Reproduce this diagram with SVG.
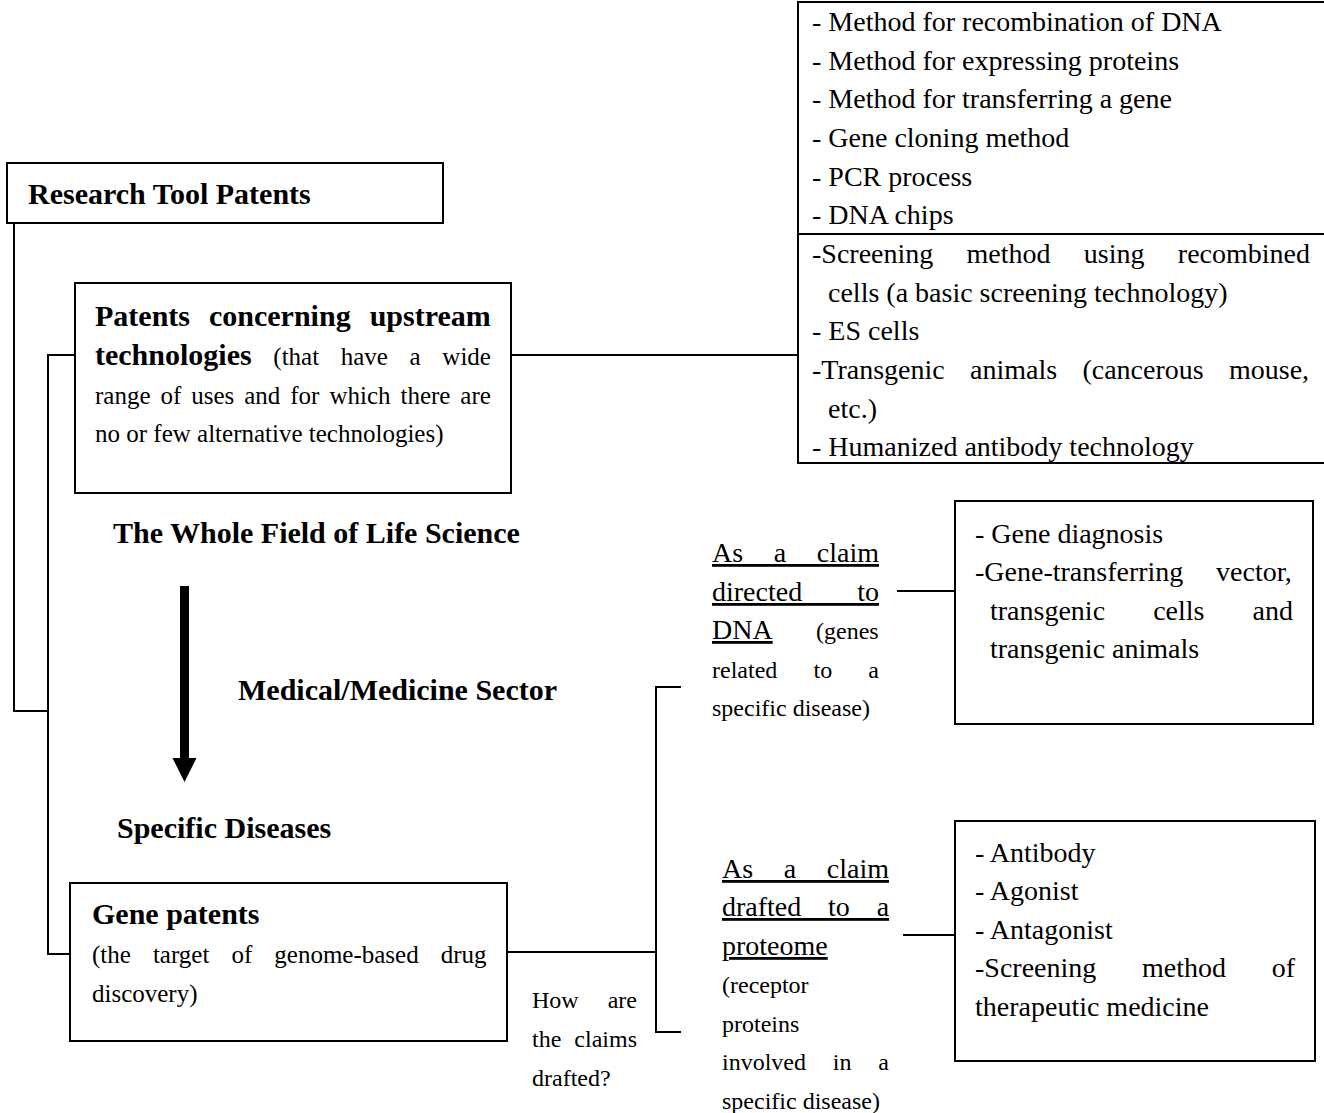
<svg xmlns="http://www.w3.org/2000/svg" width="1324" height="1113" viewBox="0 0 1324 1113">
<style>
text{font-family:"Liberation Serif","Times New Roman",serif;fill:#000}
.b{font-weight:bold;font-size:30px}
.l{font-size:28px}
.m{font-size:25px}
.s{font-size:24px}
.u{text-decoration:underline}
.box{fill:#fff;stroke:#000;stroke-width:2}
.conn path{fill:none;stroke:#000;stroke-width:2}
</style>
<rect width="1324" height="1113" fill="#fff"/>
<g class="conn" id="connectors">
<path d="M14,223 V711 H48"/>
<path d="M75,355 H48 V954 H71"/>
<path d="M511,355 H798"/>
<path d="M507,952 H656"/>
<path d="M681,687 H656 V1032 H681"/>
<path d="M897,591 H955"/>
<path d="M903,935 H955"/>
</g>
<g id="arrow">
<rect x="180" y="586" width="9" height="174" fill="#000"/>
<polygon points="172.5,758 196.5,758 184.5,782" fill="#000"/>
</g>
<g id="research-tool-patents">
<rect class="box" x="7" y="163" width="436" height="60"/>
<text class="b" x="28" y="204">Research Tool Patents</text>
</g>
<g id="upstream">
<rect class="box" x="75" y="283" width="436" height="210"/>
<text class="b" x="95" y="326" style="word-spacing:11.5px">Patents concerning upstream</text>
<text x="95" y="365" style="word-spacing:15.4px"><tspan class="b">technologies</tspan><tspan class="m"> (that have a wide</tspan></text>
<text class="m" x="95" y="404" style="word-spacing:3.7px">range of uses and for which there are</text>
<text class="m" x="95" y="442">no or few alternative technologies)</text>
</g>
<g id="tool-list">
<path class="box" d="M1330,2 H798 V463 H1330 M798,234 H1330"/>
<text class="l" x="812" y="31">- Method for recombination of DNA</text>
<text class="l" x="812" y="70">- Method for expressing proteins</text>
<text class="l" x="812" y="108">- Method for transferring a gene</text>
<text class="l" x="812" y="147">- Gene cloning method</text>
<text class="l" x="812" y="186">- PCR process</text>
<text class="l" x="812" y="224">- DNA chips</text>
<text class="l" x="812" y="263" style="word-spacing:26.3px">-Screening method using recombined</text>
<text class="l" x="828" y="302">cells (a basic screening technology)</text>
<text class="l" x="812" y="340">- ES cells</text>
<text class="l" x="812" y="379" style="word-spacing:18.3px">-Transgenic animals (cancerous mouse,</text>
<text class="l" x="828" y="418">etc.)</text>
<text class="l" x="812" y="456">- Humanized antibody technology</text>
</g>
<g id="labels">
<text class="b" x="113" y="543">The Whole Field of Life Science</text>
<text class="b" x="238" y="700">Medical/Medicine Sector</text>
<text class="b" x="117" y="838">Specific Diseases</text>
</g>
<g id="gene-patents">
<rect class="box" x="70" y="883" width="437" height="158"/>
<text class="b" x="92" y="924">Gene patents</text>
<text class="m" x="92" y="963" style="word-spacing:15.8px">(the target of genome-based drug</text>
<text class="m" x="92" y="1002">discovery)</text>
</g>
<g id="how-drafted">
<text class="s" x="532" y="1008" style="word-spacing:23px">How are</text>
<text class="s" x="532" y="1047" style="word-spacing:7px">the claims</text>
<text class="s" x="532" y="1086">drafted?</text>
</g>
<g id="dna-claim">
<text class="l u" x="712" y="562" style="word-spacing:23.6px">As a claim</text>
<text class="l u" x="712" y="601" style="word-spacing:48px">directed to</text>
<text x="712" y="639"><tspan class="l u">DNA</tspan><tspan class="s" x="816">(genes</tspan></text>
<text class="s" x="712" y="678" style="word-spacing:30.2px">related to a</text>
<text class="s" x="712" y="716">specific disease)</text>
</g>
<g id="dna-uses">
<rect class="box" x="955" y="501" width="358" height="223"/>
<text class="l" x="975" y="543">- Gene diagnosis</text>
<text class="l" x="975" y="581" style="word-spacing:25.7px">-Gene-transferring vector,</text>
<text class="l" x="990" y="620" style="word-spacing:41.1px">transgenic cells and</text>
<text class="l" x="990" y="658">transgenic animals</text>
</g>
<g id="proteome-claim">
<text class="l u" x="722" y="878" style="word-spacing:23.6px">As a claim</text>
<text class="l u" x="722" y="916" style="word-spacing:19.8px">drafted to a</text>
<text class="l u" x="722" y="955">proteome</text>
<text class="s" x="722" y="993">(receptor</text>
<text class="s" x="722" y="1032">proteins</text>
<text class="s" x="722" y="1070" style="word-spacing:20.8px">involved in a</text>
<text class="s" x="722" y="1109">specific disease)</text>
</g>
<g id="proteome-uses">
<rect class="box" x="955" y="821" width="360" height="240"/>
<text class="l" x="975" y="862">- Antibody</text>
<text class="l" x="975" y="900">- Agonist</text>
<text class="l" x="975" y="939">- Antagonist</text>
<text class="l" x="975" y="977" style="word-spacing:38.7px">-Screening method of</text>
<text class="l" x="975" y="1016">therapeutic medicine</text>
</g>
</svg>
